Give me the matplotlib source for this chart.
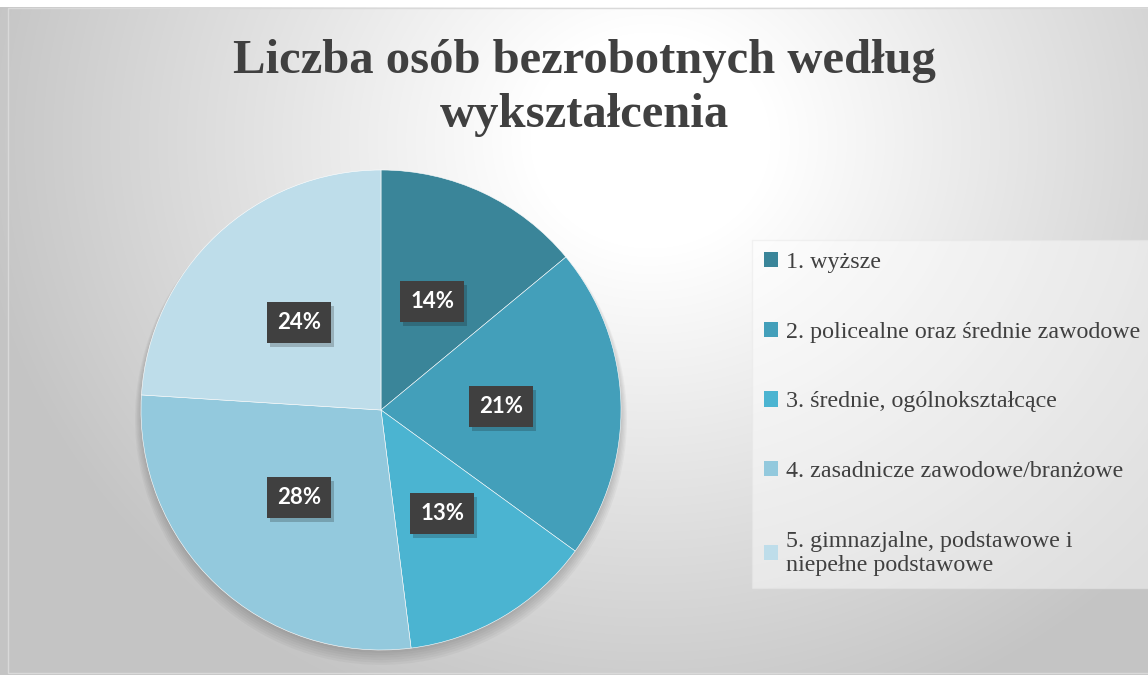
import matplotlib.pyplot as plt
import numpy as np
from matplotlib.patches import Rectangle, Circle
from matplotlib import patheffects as pe

# dane
kategorie = ['1. wyższe',
             '2. policealne oraz średnie zawodowe',
             '3. średnie, ogólnokształcące',
             '4. zasadnicze zawodowe/branżowe',
             '5. gimnazjalne, podstawowe i\nniepełne podstawowe']
udzialy = [14, 21, 13, 28, 24]
kolory = ['#3A8599', '#439FBA', '#4BB4D1', '#93C9DD', '#BEDDEA']

W, H = 1148, 675
fig = plt.figure(figsize=(W/100, H/100), dpi=100)

# tlo z gradientem
bg = fig.add_axes([0, 0, 1, 1])
bg.set_xlim(0, W)
bg.set_ylim(H, 0)
bg.axis('off')
xx, yy = np.meshgrid(np.arange(W), np.arange(H))
d = np.sqrt(((xx - 650)/1.0)**2 + ((yy - 140)/0.9)**2)
t = np.clip((d - 120)/560, 0, 1)
v = 1.0 - 0.23*t
img = np.dstack([v, v, v])
bg.imshow(img, extent=(0, W, H, 0), aspect='auto', zorder=0)
bg.add_patch(Rectangle((0, 0), W, 7, facecolor='white', edgecolor='none', zorder=1))
bg.add_patch(Rectangle((7.5, 7.5), W, 665, facecolor='none', edgecolor='#d9d9d9', lw=1, zorder=2))

# tytul
fig.text(584/W, 1 - 73/H, 'Liczba osób bezrobotnych według', ha='center', va='baseline',
         fontsize=35, fontweight='bold', family='Liberation Serif', color='#404040')
fig.text(584/W, 1 - 127/H, 'wykształcenia', ha='center', va='baseline',
         fontsize=35, fontweight='bold', family='Liberation Serif', color='#404040')

# wykres kolowy
ax = fig.add_axes([141/W, 1 - 650/H, 480/W, 480/H])
for k in range(6):
    ax.add_patch(Circle((0.0, -0.012 - 0.005*k), 1.0 + 0.005*k, facecolor='black',
                        alpha=0.03, edgecolor='none', zorder=0, clip_on=False))
wedges, _ = ax.pie(udzialy, colors=kolory, startangle=90, counterclock=False,
                   radius=1, wedgeprops=dict(edgecolor='#ffffff', linewidth=0.4))
ax.set_xlim(-1, 1)
ax.set_ylim(-1, 1)
ax.axis('off')
for w in wedges:
    w.set_zorder(2)
    w.set_clip_on(False)

cum = np.cumsum([0] + udzialy)
for i, p in enumerate(udzialy):
    mid = np.deg2rad(90 - 3.6*(cum[i] + p/2))
    r = 0.5
    txt = ax.text(r*np.cos(mid), r*np.sin(mid), f'{p}%', ha='center', va='center',
                  fontsize=16, fontweight='bold', family='Lato', color='white', zorder=5,
                  bbox=dict(boxstyle='square,pad=0.45', facecolor='#404040', edgecolor='none'))
    txt.get_bbox_patch().set_path_effects([pe.withSimplePatchShadow(offset=(2, -3), alpha=0.22),
                                           pe.Normal()])

# legenda
handles = [Rectangle((0, 0), 1, 1, facecolor=c, edgecolor='none') for c in kolory]
leg = fig.legend(handles, kategorie, loc='upper left', bbox_to_anchor=(752/W, 1 - 240/H),
                 prop=dict(family='Liberation Serif', size=17.3), labelcolor='#404040',
                 handlelength=0.6, handleheight=0.6, handletextpad=0.3,
                 labelspacing=2.02, borderpad=0.5, borderaxespad=0,
                 frameon=True, fancybox=False)
fr = leg.get_frame()
fr.set_facecolor('white')
fr.set_alpha(0.45)
fr.set_edgecolor('#e6e6e6')

fig.savefig('out.png', dpi=100)
